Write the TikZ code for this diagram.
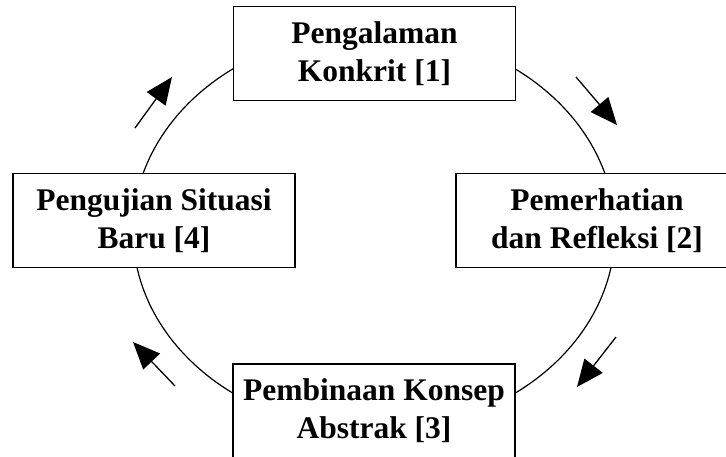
\documentclass[tikz,border=0pt]{standalone}
\usepackage{fontspec}
\setmainfont{Liberation Serif}
\usepackage{tikz}
\usetikzlibrary{arrows.meta}
\usetikzlibrary{calc}

\begin{document}
\begin{tikzpicture}[x=1pt, y=-1pt, stage/.style={draw, fill=white, line width=1.3pt, minimum width=282pt, minimum height=94pt, inner sep=0pt, align=center, font=\fontsize{31.5}{38}\selectfont\bfseries}, ring/.style={line width=1.2pt}, turn/.style={line width=1.3pt, -{Triangle[length=27pt, width=23pt]}}]
			\useasboundingbox (0,0) rectangle (726,456);
			\clip (0,0) rectangle (726,456);

			\draw [ring] (374,231) ellipse [x radius=241pt, y radius=200pt];

			\node[stage] (konkrit) at (374.5, 53.5) {Pengalaman\\Konkrit [1]};
			\node[stage] (refleksi) at (597, 220.5) {Pemerhatian\\dan Refleksi [2]};
			\node[stage] (abstrak) at (374, 411) {Pembinaan Konsep\\Abstrak [3]};
			\node[stage] (situasi) at (154, 220.5) {Pengujian Situasi\\Baru [4]};

			% arrows round the cycle
			\coordinate (up s) at (135,128);
			\coordinate (up e) at (172,77);
			\coordinate (right s) at (576,77);
			\coordinate (right e) at (617,125);
			\coordinate (down s) at (616,337);
			\coordinate (down e) at (577,387);
			\coordinate (left s) at (175,386);
			\coordinate (left e) at (133,342);

			\draw [turn] (up s) -- (up e);
			\draw [turn] (right s) -- (right e);
			\draw [turn] (down s) -- (down e);
			\draw [turn] (left s) -- (left e);
		\end{tikzpicture}
\end{document}
